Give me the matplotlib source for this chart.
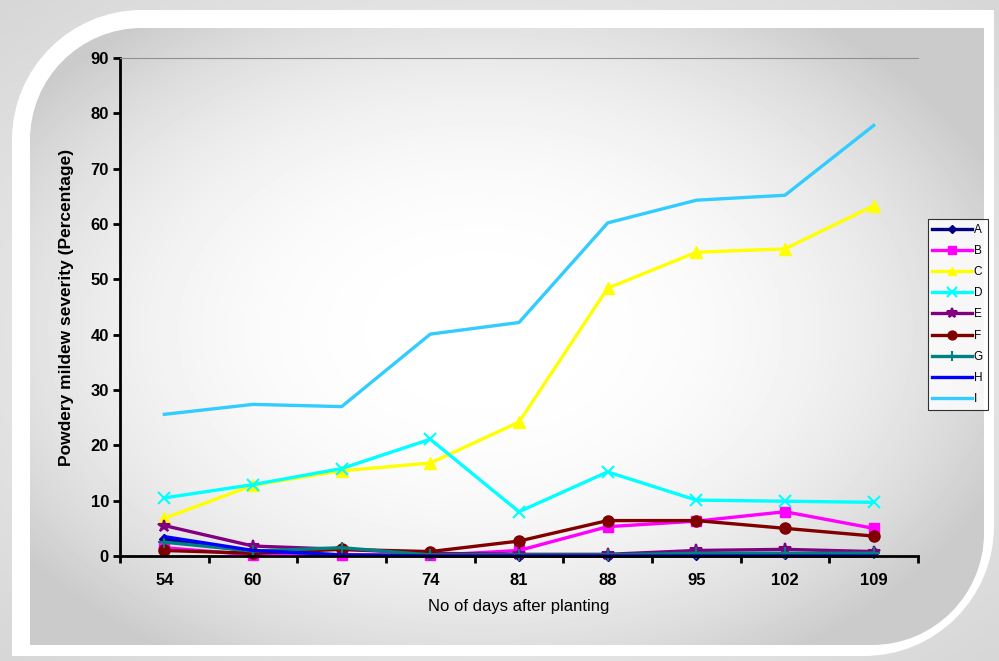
# Powdery mildew severity vs days after planting
import numpy as np
import matplotlib.pyplot as plt
from matplotlib.path import Path
from matplotlib.patches import PathPatch

plt.rcParams['font.family'] = ['Liberation Sans', 'DejaVu Sans']

days = ["54", "60", "67", "74", "81", "88", "95", "102", "109"]
y_ticks = [0, 10, 20, 30, 40, 50, 60, 70, 80, 90]

A = [3.0, 0.8, 0.2, 0.1, 0.0, 0.0, 0.2, 0.3, 0.7]
B = [1.5, 0.2, 0.2, 0.1, 1.0, 5.3, 6.3, 8.0, 5.0]
C = [6.8, 12.8, 15.4, 16.8, 24.2, 48.4, 54.9, 55.5, 63.3]
D = [10.5, 12.9, 15.8, 21.1, 8.0, 15.2, 10.1, 9.9, 9.7]
E = [5.5, 1.8, 1.2, 0.5, 0.3, 0.3, 1.0, 1.2, 0.8]
F = [1.0, 0.5, 1.2, 0.8, 2.7, 6.4, 6.4, 5.0, 3.6]
G = [2.5, 0.9, 1.5, 0.2, 0.2, 0.2, 0.5, 0.5, 0.5]
H = [3.5, 1.0, 0.2, 0.0, 0.0, 0.0, 0.0, 0.0, 0.0]
I = [25.6, 27.4, 27.0, 40.1, 42.2, 60.2, 64.3, 65.2, 77.8]

names = ["A", "B", "C", "D", "E", "F", "G", "H", "I"]
series = [A, B, C, D, E, F, G, H, I]
colors = ["#000080", "#FF00FF", "#FFFF00", "#00FFFF", "#800080",
          "#800000", "#008080", "#0000FF", "#33CCFF"]
markers = ["D", "s", "^", "x", "*", "o", "+", "None", "None"]
msizes = [5, 7, 8, 9, 9, 8, 9, 0, 0]

W, H_px = 999, 661
fig = plt.figure(figsize=(W / 100, H_px / 100), dpi=100)

# 背景（角丸フレーム）
bg = fig.add_axes([0, 0, 1, 1])
bg.set_xlim(0, W)
bg.set_ylim(H_px, 0)
bg.axis("off")

yy, xx = np.mgrid[0:H_px, 0:W]
r_out = np.sqrt(((xx - W / 2) / (W / 2)) ** 2 + ((yy - H_px / 2) / (H_px / 2)) ** 2)
bg.imshow(1 - 0.16 * np.clip(r_out, 0, 1.4) / 1.4, cmap="gray", vmin=0, vmax=1,
          extent=(0, W, H_px, 0), aspect="auto", zorder=0)


def diag_round(x0, y0, x1, y1, r):
    k = 0.5523 * r
    verts = [(x0, y0 + r),
             (x0, y0 + r - k), (x0 + r - k, y0), (x0 + r, y0),
             (x1, y0),
             (x1, y1 - r),
             (x1, y1 - r + k), (x1 - r + k, y1), (x1 - r, y1),
             (x0, y1),
             (x0, y0 + r)]
    codes = [Path.MOVETO, Path.CURVE4, Path.CURVE4, Path.CURVE4, Path.LINETO,
             Path.LINETO, Path.CURVE4, Path.CURVE4, Path.CURVE4, Path.LINETO,
             Path.CLOSEPOLY]
    return Path(verts, codes)


outer = PathPatch(diag_round(12, 10, 994, 656, 130), facecolor="white",
                  edgecolor="none", zorder=1)
bg.add_patch(outer)
inner = PathPatch(diag_round(30, 28, 984, 645, 112), facecolor="none",
                  edgecolor="none", zorder=2)
bg.add_patch(inner)
r_in = np.sqrt(((xx - 480) / 470) ** 2 + ((yy - 330) / 320) ** 2)
img = bg.imshow(1 - 0.13 * np.clip(r_in, 0, 1.2) ** 2.5, cmap="gray", vmin=0, vmax=1,
                extent=(0, W, H_px, 0), aspect="auto", zorder=2)
img.set_clip_path(inner)

# グラフ本体
ax = fig.add_axes([120 / W, 1 - 556 / H_px, 798 / W, 498 / H_px])
ax.patch.set_alpha(0)

x = np.arange(len(days))
for name, s, c, m, ms in zip(names, series, colors, markers, msizes):
    ax.plot(x, s, color=c, marker=m, markersize=ms, linewidth=2.4,
            markeredgewidth=1.5 if m in ("x", "+", "*") else 1,
            markeredgecolor=c, label=name, clip_on=False)

ax.set_xlim(-0.5, len(days) - 0.5)
ax.set_ylim(0, 90)
ax.set_yticks(y_ticks)
ax.set_yticklabels([str(v) for v in y_ticks], fontsize=12, fontweight="bold")
ax.set_xticks(np.arange(-0.5, len(days), 1))
ax.set_xticklabels([])
ax.set_xticks(x, minor=True)
ax.set_xticklabels(days, minor=True, fontsize=12, fontweight="bold")
ax.tick_params(axis="x", which="minor", length=0, pad=12)
ax.tick_params(axis="x", which="major", length=5, width=2, direction="out")
ax.tick_params(axis="y", length=5, width=2, direction="out", pad=3)

for sp in ["left", "bottom"]:
    ax.spines[sp].set_linewidth(2)
ax.spines["top"].set_linewidth(0.8)
ax.spines["top"].set_color("#909090")
ax.spines["right"].set_visible(False)

ax.set_xlabel("No of days after planting", fontsize=12, labelpad=8)
ax.set_ylabel("Powdery mildew severity (Percentage)", fontsize=12.5,
              fontweight="bold", labelpad=12)

leg = ax.legend(loc="center left", bbox_to_anchor=(1.012, 0.485), fontsize=8.5,
                frameon=True, fancybox=False, edgecolor="black",
                handlelength=3.4, handletextpad=0.1, labelspacing=0.78,
                borderpad=0.4, borderaxespad=0, markerscale=0.8)
leg.get_frame().set_linewidth(0.8)
leg.get_frame().set_facecolor("white")

fig.savefig("out.png", dpi=100)
